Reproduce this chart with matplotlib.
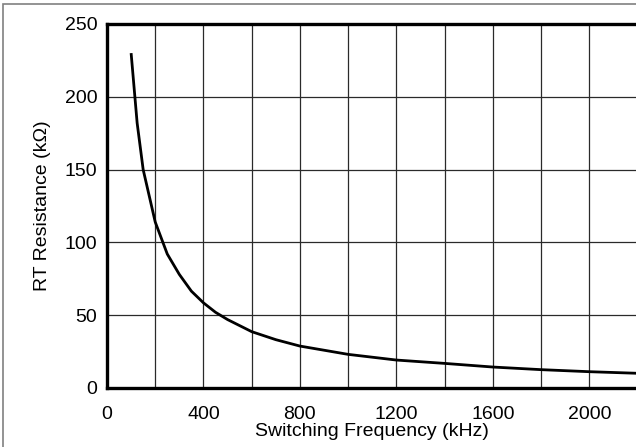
import matplotlib
matplotlib.use("Agg")
import matplotlib.pyplot as plt
from matplotlib.patches import Rectangle

freq_khz = [100, 125, 150, 200, 250, 300, 350, 400, 450, 500, 600, 700, 800, 1000, 1200, 1400, 1600, 1800, 2000, 2200]
rt_kohm = [230, 182, 150, 114, 92, 78, 66.5, 58.5, 52, 47, 38.7, 33.2, 28.8, 23.1, 19.2, 16.9, 14.4, 12.6, 11.2, 10.1]

x_ticks = [0, 400, 800, 1200, 1600, 2000]
y_ticks = [0, 50, 100, 150, 200, 250]
x_grid = list(range(0, 2201, 200))

plt.rcParams['font.family'] = ['Liberation Sans', 'DejaVu Sans']

W, H = 636, 447
fig = plt.figure(figsize=(W / 100, H / 100), dpi=100)
fig.patch.set_facecolor('white')

# outer grey frame (cropped on right/bottom)
fig.patches.append(Rectangle((3 / W, -0.05), 1.2, 1 - 4 / H + 0.05, transform=fig.transFigure,
                             fill=False, edgecolor='#808080', linewidth=1.2))

left, right = 107, 637.5
top, bottom = 24, 388
ax = fig.add_axes([left / W, 1 - bottom / H, (right - left) / W, (bottom - top) / H])

ax.set_xlim(0, 2200)
ax.set_ylim(0, 250)

for xv in x_grid:
    ax.axvline(xv, color='#2a2a2a', linewidth=0.9, zorder=1)
for yv in y_ticks:
    ax.axhline(yv, color='#2a2a2a', linewidth=0.9, zorder=1)

ax.plot(freq_khz, rt_kohm, color='black', linewidth=2.0, zorder=3, solid_capstyle='butt')

ax.set_xticks(x_ticks)
ax.set_yticks(y_ticks)
ax.tick_params(axis='both', length=0, labelsize=14)
ax.tick_params(axis='x', pad=13)
ax.tick_params(axis='y', pad=7)

for s in ['left', 'bottom', 'top']:
    ax.spines[s].set_linewidth(2.4)
    ax.spines[s].set_color('black')
    ax.spines[s].set_zorder(4)
ax.spines['right'].set_visible(False)

ax.set_xlabel('Switching Frequency (kHz)', fontsize=14, labelpad=0)
ax.set_ylabel('RT Resistance (kΩ)', fontsize=14, labelpad=10)

fig.savefig('out.png', dpi=100)
